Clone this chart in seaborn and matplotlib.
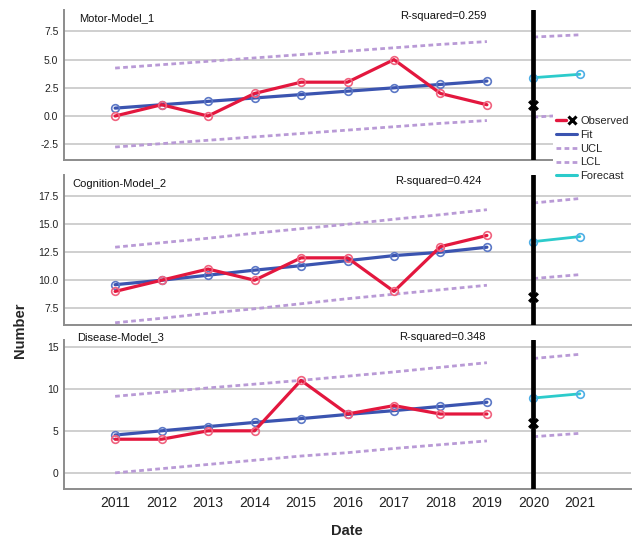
import matplotlib
matplotlib.use("Agg")
import matplotlib.pyplot as plt
from matplotlib.lines import Line2D
from matplotlib.legend_handler import HandlerTuple
import pandas as pd
import seaborn as sns

# ---- data -------------------------------------------------------------
years = [2011, 2012, 2013, 2014, 2015, 2016, 2017, 2018, 2019]
forecast_years = [2020, 2021]
year_labels = ["2011", "2012", "2013", "2014", "2015", "2016", "2017",
               "2018", "2019", "2020", "2021"]

motor_observed = [0, 1, 0, 2, 3, 3, 5, 2, 1]
motor_fit = [0.7, 1.0, 1.3, 1.6, 1.9, 2.2, 2.5, 2.8, 3.1]
motor_ucl = [4.25, 4.55, 4.85, 5.15, 5.45, 5.75, 6.05, 6.35, 6.6]
motor_lcl = [-2.75, -2.45, -2.15, -1.85, -1.55, -1.25, -0.95, -0.65, -0.4]
motor_forecast = [3.4, 3.7]
motor_forecast_ucl = [7.0, 7.2]
motor_forecast_lcl = [-0.1, 0.15]
motor_observed_2020 = 1.0

cognition_observed = [9, 10, 11, 10, 12, 12, 9, 13, 14]
cognition_fit = [9.6, 10.0, 10.45, 10.9, 11.3, 11.75, 12.2, 12.5, 12.95]
cognition_ucl = [12.95, 13.35, 13.75, 14.2, 14.6, 15.0, 15.45, 15.85, 16.3]
cognition_lcl = [6.2, 6.6, 7.05, 7.45, 7.9, 8.35, 8.75, 9.15, 9.55]
cognition_forecast = [13.45, 13.9]
cognition_forecast_ucl = [16.9, 17.3]
cognition_forecast_lcl = [10.15, 10.5]
cognition_observed_2020 = 8.5

disease_observed = [4, 4, 5, 5, 11, 7, 8, 7, 7]
disease_fit = [4.5, 5.0, 5.5, 6.0, 6.45, 6.95, 7.4, 7.9, 8.4]
disease_ucl = [9.1, 9.6, 10.1, 10.55, 11.0, 11.5, 12.0, 12.55, 13.1]
disease_lcl = [0.0, 0.5, 1.0, 1.5, 2.0, 2.4, 2.9, 3.35, 3.8]
disease_forecast = [8.9, 9.4]
disease_forecast_ucl = [13.6, 14.1]
disease_forecast_lcl = [4.3, 4.7]
disease_observed_2020 = 5.9

model_names = ["Motor-Model_1", "Cognition-Model_2", "Disease-Model_3"]
r_squared = ["0.259", "0.424", "0.348"]

# ---- style ------------------------------------------------------------
sns.set_style("white")
plt.rcParams["font.family"] = ["Liberation Sans", "DejaVu Sans"]

RED = "#e3173e"
RED_MK = "#f0627e"
BLUE = "#3b54b0"
BLUE_MK = "#5c78c6"
PURPLE = "#b99ad6"
CYAN = "#2ccbcb"
CYAN_MK = "#4eaee6"
GRID = "#cfcfcf"
SPINE = "#8c8c8c"

W, H = 641, 539
fig = plt.figure(figsize=(W / 100, H / 100), dpi=100)


def px_rect(left, top, right, bottom):
    return [left / W, 1 - bottom / H, (right - left) / W, (bottom - top) / H]


panels = [
    dict(rect=px_rect(64, 10, 631, 160), ylim=(-3.9, 9.4),
         yticks=[-2.5, 0.0, 2.5, 5.0, 7.5], fmt="{:.1f}",
         obs=motor_observed, fit=motor_fit, ucl=motor_ucl, lcl=motor_lcl,
         fc=motor_forecast, fc_ucl=motor_forecast_ucl,
         fc_lcl=motor_forecast_lcl, obs20=motor_observed_2020,
         name_xy=(79, 18), r2_xy=(443, 16)),
    dict(rect=px_rect(64, 175, 631, 325), ylim=(6.0, 19.4),
         yticks=[7.5, 10.0, 12.5, 15.0, 17.5], fmt="{:.1f}",
         obs=cognition_observed, fit=cognition_fit, ucl=cognition_ucl,
         lcl=cognition_lcl, fc=cognition_forecast,
         fc_ucl=cognition_forecast_ucl, fc_lcl=cognition_forecast_lcl,
         obs20=cognition_observed_2020,
         name_xy=(72, 184), r2_xy=(438, 181)),
    dict(rect=px_rect(64, 340, 631, 489), ylim=(-1.92, 15.8),
         yticks=[0, 5, 10, 15], fmt="{:.0f}",
         obs=disease_observed, fit=disease_fit, ucl=disease_ucl,
         lcl=disease_lcl, fc=disease_forecast, fc_ucl=disease_forecast_ucl,
         fc_lcl=disease_forecast_lcl, obs20=disease_observed_2020,
         name_xy=(77, 337), r2_xy=(442, 337)),
]

dotted = dict(color=PURPLE, linewidth=2.0, dashes=(1.7, 1.2),
              dash_capstyle="butt")

for i, p in enumerate(panels):
    ax = fig.add_axes(p["rect"])
    hist = pd.DataFrame({"Year": years, "Observed": p["obs"],
                         "Fit": p["fit"], "UCL": p["ucl"], "LCL": p["lcl"]})
    fut = pd.DataFrame({"Year": forecast_years, "Forecast": p["fc"],
                        "UCL": p["fc_ucl"], "LCL": p["fc_lcl"]})

    # confidence limits, historical span and forecast span
    for df in (hist, fut):
        for col in ("UCL", "LCL"):
            sns.lineplot(data=df, x="Year", y=col, ax=ax, zorder=3, **dotted)

    sns.lineplot(data=hist, x="Year", y="Fit", ax=ax, color=BLUE,
                 linewidth=2.3, marker="o", markersize=5.5, mfc="none",
                 mec=BLUE_MK, mew=1.2, zorder=5)
    sns.lineplot(data=hist, x="Year", y="Observed", ax=ax, color=RED,
                 linewidth=2.3, marker="o", markersize=5.5, mfc="none",
                 mec=RED_MK, mew=1.2, zorder=6)
    sns.lineplot(data=fut, x="Year", y="Forecast", ax=ax, color=CYAN,
                 linewidth=2.0, marker="o", markersize=5.5, mfc="none",
                 mec=CYAN_MK, mew=1.2, zorder=4)

    # vertical marker at the forecast origin
    ax.axvline(2020, color="black", linewidth=3.4, zorder=4.5)

    sns.scatterplot(x=[2020], y=[p["obs20"]], ax=ax, marker="x", s=38,
                    color="black", linewidth=2.4, zorder=7)

    ax.set_xlim(2009.9, 2022.1)
    ax.set_ylim(*p["ylim"])
    ax.set_yticks(p["yticks"])
    ax.set_yticklabels([p["fmt"].format(v) for v in p["yticks"]],
                       fontsize=7.5, color="#222222")
    ax.set_xticks(years + forecast_years)
    if i == 2:
        ax.set_xticklabels(year_labels, fontsize=10, color="#222222")
    else:
        ax.set_xticklabels([])
    ax.tick_params(length=0, pad=5)
    ax.tick_params(axis="y", pad=4)
    ax.set_xlabel("")
    ax.set_ylabel("")
    ax.yaxis.grid(True, color=GRID, linewidth=1.4, zorder=0)
    ax.set_axisbelow(True)
    for s in ("top", "right"):
        ax.spines[s].set_visible(False)
    for s in ("left", "bottom"):
        ax.spines[s].set_color(SPINE)
        ax.spines[s].set_linewidth(1.4)

    fig.text(p["name_xy"][0] / W, 1 - p["name_xy"][1] / H, model_names[i],
             fontsize=8, va="center", ha="left", color="#111111")
    fig.text(p["r2_xy"][0] / W, 1 - p["r2_xy"][1] / H,
             f"R-squared={r_squared[i]}", fontsize=8, va="center",
             ha="center", color="#111111")

fig.text(20 / W, 1 - 330 / H, "Number", rotation=90, fontsize=10.5,
         fontweight="bold", ha="center", va="center")
fig.text(347 / W, 1 - 531 / H, "Date", fontsize=10.5, fontweight="bold",
         ha="center", va="center")

handles = [
    (Line2D([], [], color=RED, linewidth=2.4),
     Line2D([], [], color="black", marker="x", linestyle="none",
            markersize=6, mew=2.2)),
    Line2D([], [], color=BLUE, linewidth=2.2),
    Line2D([], [], **dotted),
    Line2D([], [], **dotted),
    Line2D([], [], color=CYAN, linewidth=2.2),
]
labels = ["Observed", "Fit", "UCL", "LCL", "Forecast"]
leg = fig.legend(handles, labels, loc="upper left",
                 bbox_to_anchor=(553 / W, 1 - 113 / H), fontsize=8,
                 frameon=True, facecolor="white", edgecolor="none",
                 framealpha=1, fancybox=False, handlelength=1.9,
                 handletextpad=0.3, labelspacing=0.35, borderpad=0.25,
                 borderaxespad=0,
                 handler_map={tuple: HandlerTuple(ndivide=2, pad=0.1)})

fig.savefig("out.png", dpi=100)
